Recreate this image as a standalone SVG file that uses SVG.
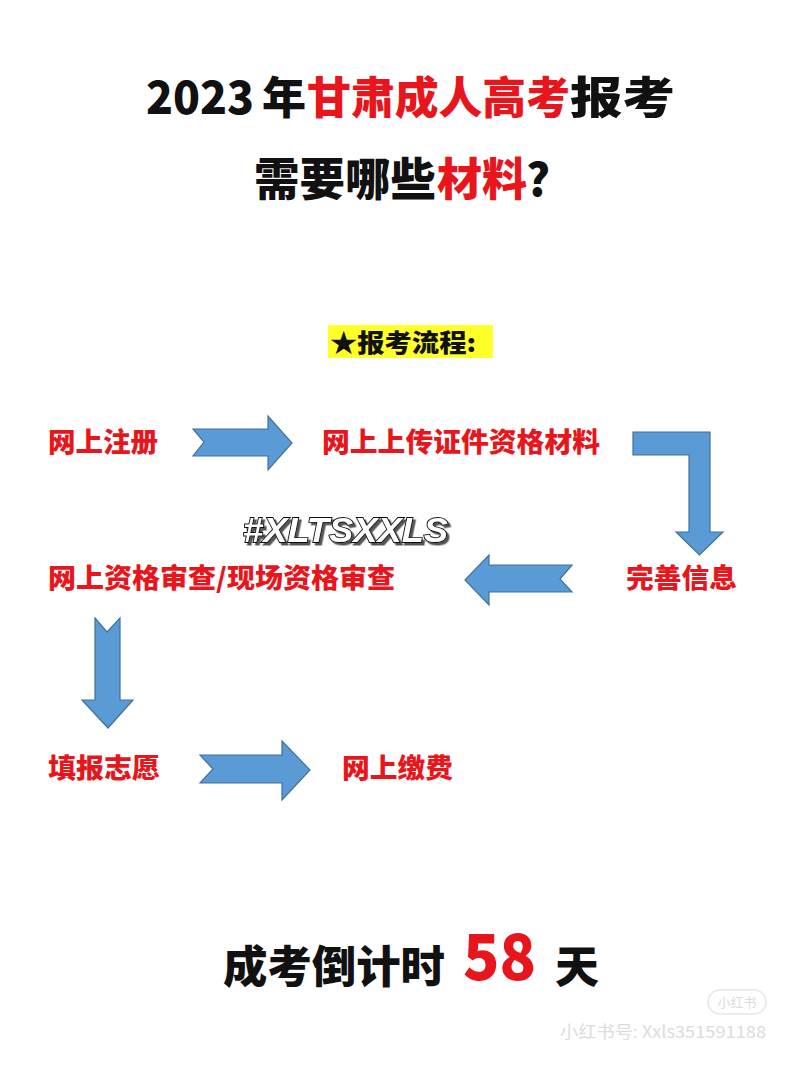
<svg xmlns="http://www.w3.org/2000/svg" width="800" height="1067" viewBox="0 0 800 1067">
<defs>
<filter id="sh" x="-5%" y="-20%" width="115%" height="150%">
<feDropShadow dx="2.5" dy="2.5" stdDeviation="0.6" flood-color="#555" flood-opacity="1"/>
</filter>
</defs>
<style>
.t{font-family:"Noto Sans CJK SC","Noto Sans",sans-serif;font-weight:900}
.blk{fill:#111}
.red{fill:#e8161c}
.lbl{font-family:"Noto Sans CJK SC","Noto Sans",sans-serif;font-weight:900;font-size:27px;fill:#e8161c}
.arr{fill:#5b9bd5;stroke:#41719c;stroke-width:1.2;stroke-linejoin:miter}
.tag{font-family:"Liberation Sans",Arial,sans-serif;font-weight:bold;font-style:italic;font-size:35px}
.wm{font-family:"Noto Sans CJK SC","Noto Sans",sans-serif;fill:#dcdcdc}
</style>
<rect width="800" height="1067" fill="#ffffff"/>
<g id="title">
<text class="t blk" x="146" y="114" font-size="46" textLength="108" lengthAdjust="spacingAndGlyphs">2023</text>
<text class="t blk" x="262" y="114" font-size="44">年</text>
<text class="t red" x="307" y="114" font-size="44" textLength="263" lengthAdjust="spacingAndGlyphs">甘肃成人高考</text>
<text class="t blk" x="570" y="114" font-size="44" textLength="105" lengthAdjust="spacingAndGlyphs">报考</text>
<text class="t blk" x="254" y="196" font-size="45" textLength="182" lengthAdjust="spacingAndGlyphs">需要哪些</text>
<text class="t red" x="437" y="196" font-size="45" textLength="90" lengthAdjust="spacingAndGlyphs">材料</text>
<text class="t blk" x="526" y="196" font-size="45">?</text>
</g>
<g id="heading">
<rect x="328" y="325" width="165" height="33" fill="#ffff2a"/>
<text class="t blk" x="330" y="352" font-size="25" textLength="146" lengthAdjust="spacingAndGlyphs">★报考流程:</text>
</g>
<g id="connectors">
<polygon class="arr" points="193,429 268,429 268,416 292,443 268,470 268,456 193,456 204,442"/>
<polygon class="arr" points="633,432 710,432 710,532 723,532 699.5,555 676,532 689,532 689,455 633,455"/>
<polygon class="arr" points="465,580 489,555 489,565 572,565 560,579 572,592 489,592 489,605"/>
<polygon class="arr" points="95,618 107,632 120,618 120,700 133,700 108,728 82,700 95,700"/>
<polygon class="arr" points="200,755 282,755 282,741 310,770 282,800 282,783 200,783 213,769"/>
</g>
<g id="n1"><text class="lbl" x="48" y="452" textLength="110" lengthAdjust="spacingAndGlyphs">网上注册</text></g>
<g id="n2"><text class="lbl" x="322" y="452" textLength="278" lengthAdjust="spacingAndGlyphs">网上上传证件资格材料</text></g>
<g id="n3"><text class="lbl" x="626" y="588" textLength="111" lengthAdjust="spacingAndGlyphs">完善信息</text></g>
<g id="n4"><text class="lbl" x="48" y="588" textLength="347" lengthAdjust="spacingAndGlyphs">网上资格审查/现场资格审查</text></g>
<g id="n5"><text class="lbl" x="48" y="778" textLength="112" lengthAdjust="spacingAndGlyphs">填报志愿</text></g>
<g id="n6"><text class="lbl" x="342" y="778" textLength="111" lengthAdjust="spacingAndGlyphs">网上缴费</text></g>
<g id="tag">
<text class="tag" x="243" y="542" textLength="205" lengthAdjust="spacingAndGlyphs" fill="#ffffff" stroke="#111" stroke-width="1.8" paint-order="stroke" filter="url(#sh)">#XLTSXXLS</text>
</g>
<g id="countdown">
<text class="t blk" x="223" y="983" font-size="44" textLength="222" lengthAdjust="spacingAndGlyphs">成考倒计时</text>
<text class="t red" x="463" y="980" font-size="64" textLength="73" lengthAdjust="spacingAndGlyphs">58</text>
<text class="t blk" x="555" y="983" font-size="44">天</text>
</g>
<g id="watermark">
<rect x="708" y="990" width="58" height="24" rx="12" fill="none" stroke="#e6e6e6" stroke-width="1.5"/>
<text class="wm" x="737" y="1007" font-size="13" text-anchor="middle">小红书</text>
<text class="wm" x="560" y="1038" font-size="17" textLength="206" lengthAdjust="spacingAndGlyphs">小红书号: Xxls351591188</text>
</g>
</svg>
